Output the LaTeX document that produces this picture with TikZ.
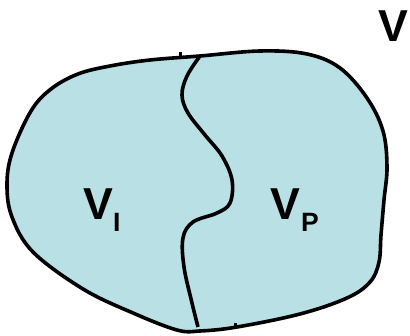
\documentclass[tikz,border=0pt]{standalone}
\usepackage{fontspec}
\setmainfont{Liberation Sans}
\definecolor{fillblue}{RGB}{185,224,228}
\begin{document}
\begin{tikzpicture}[x=1pt,y=-1pt,
  outline/.style={draw=black,line width=3.6pt,line join=round},
  lbl/.style={inner sep=0pt,anchor=base west,font=\fontsize{44.7}{50}\selectfont\bfseries},
  sublbl/.style={inner sep=0pt,anchor=base west,font=\fontsize{26.5}{30}\selectfont\bfseries}]
\useasboundingbox (0,0) rectangle (410,336);
\draw[outline,fill=fillblue] plot[smooth cycle,tension=0.6] coordinates {
  (150,60) (200,56) (260,51) (307,54) (340,68) (367,98) (383,131) (387,167)
  (384,200) (381,235) (379,262) (370,282) (347,298) (300,314) (237,327)
  (200,331) (177,330) (133,313) (83,289) (33,252) (12,217) (7,185) (12,153)
  (31,111) (51,89) (78,74) (110,66)};
\draw[outline,line cap=butt] plot[smooth,tension=0.6] coordinates {
  (200,56) (187,76) (182,95) (188,113) (205,135) (222,156) (232,180)
  (230,203) (217,213) (193,222) (183,238) (184,267) (192,303) (198,327)};
\draw[line width=3pt] (180,52) -- (180,56);
\draw[line width=3pt] (235,323) -- (235,327);
\node[lbl] (vi) at (83,220) {V};
\node[sublbl] (vis) at (113,232) {I};
\node[lbl] (vp) at (270,220) {V};
\node[sublbl] (vps) at (301,232) {P};
\node[lbl] (v) at (378,42) {V};
\end{tikzpicture}
\end{document}
